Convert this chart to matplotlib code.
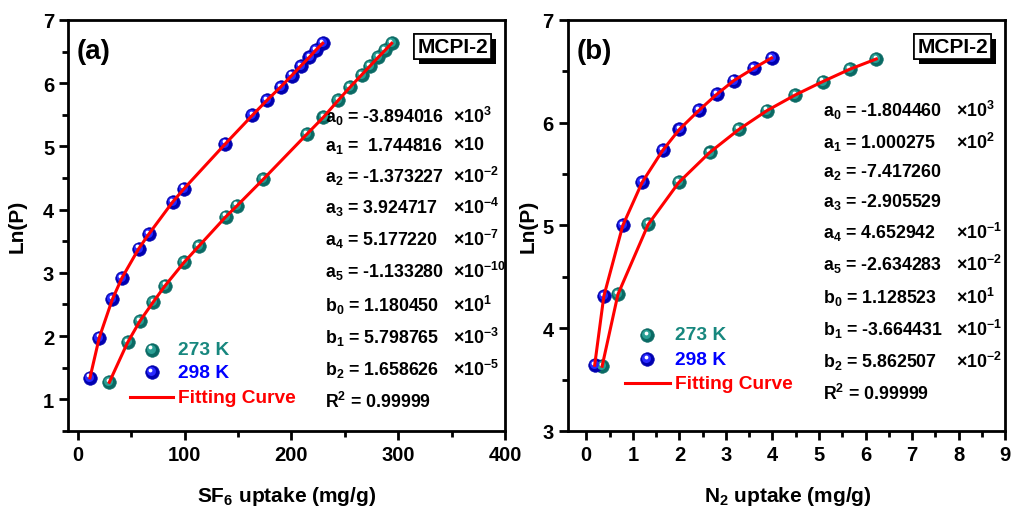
import matplotlib
matplotlib.use("Agg")
import matplotlib.pyplot as plt
from matplotlib.transforms import offset_copy
import matplotlib.patheffects as pe
from matplotlib.ticker import MultipleLocator

plt.rcParams['font.family'] = ['Liberation Sans', 'DejaVu Sans']
plt.rcParams['font.weight'] = 'bold'
plt.rcParams['mathtext.fontset'] = 'custom'
plt.rcParams['mathtext.rm'] = 'Liberation Sans:bold'
plt.rcParams['mathtext.it'] = 'Liberation Sans:bold'
plt.rcParams['mathtext.bf'] = 'Liberation Sans:bold'
plt.rcParams['mathtext.sf'] = 'Liberation Sans:bold'
plt.rcParams['mathtext.default'] = 'rm'

# ---------------- data ----------------
sf6_273_x = [29.6, 46.7, 58.3, 70.7, 81.9, 99.7, 113.2, 138.7, 149.0, 173.6,
             214.2, 229.8, 243.8, 254.7, 265.6, 273.4, 281.2, 287.5, 293.7]
sf6_273_y = [1.27, 1.90, 2.24, 2.54, 2.80, 3.17, 3.42, 3.89, 4.06, 4.48,
             5.19, 5.46, 5.73, 5.935, 6.13, 6.27, 6.41, 6.52, 6.63]
sf6_298_x = [11.5, 20.2, 32.4, 41.4, 57.0, 66.4, 88.8, 99.4, 138.1, 163.3,
             177.1, 189.9, 200.2, 208.6, 216.7, 222.9, 229.2]
sf6_298_y = [1.34, 1.975, 2.58, 2.92, 3.38, 3.61, 4.12, 4.33, 5.04, 5.49,
             5.73, 5.94, 6.12, 6.27, 6.41, 6.525, 6.63]

n2_273_x = [0.34, 0.68, 1.33, 1.99, 2.65, 3.28, 3.88, 4.49, 5.08, 5.66, 6.23]
n2_273_y = [3.63, 4.33, 5.01, 5.42, 5.71, 5.935, 6.117, 6.27, 6.40, 6.52, 6.62]
n2_298_x = [0.18, 0.376, 0.784, 1.20, 1.64, 2.00, 2.42, 2.80, 3.17, 3.60, 3.98]
n2_298_y = [3.64, 4.31, 5.00, 5.42, 5.73, 5.935, 6.12, 6.275, 6.41, 6.53, 6.63]

params_a_names = ["a$_0$", "a$_1$", "a$_2$", "a$_3$", "a$_4$", "a$_5$",
                  "b$_0$", "b$_1$", "b$_2$", "R$^2$"]
params_a_vals = ["-3.894016", " 1.744816", "-1.373227", "3.924717", "5.177220",
                 "-1.133280", "1.180450", "5.798765", "1.658626", "0.99999"]
params_a_exp = ["$\\times$10$^{3}$", "$\\times$10", "$\\times$10$^{-2}$",
                "$\\times$10$^{-4}$", "$\\times$10$^{-7}$", "$\\times$10$^{-10}$",
                "$\\times$10$^{1}$", "$\\times$10$^{-3}$", "$\\times$10$^{-5}$", ""]

params_b_names = params_a_names
params_b_vals = ["-1.804460", "1.000275", "-7.417260", "-2.905529", "4.652942",
                 "-2.634283", "1.128523", "-3.664431", "5.862507", "0.99999"]
params_b_exp = ["$\\times$10$^{3}$", "$\\times$10$^{2}$", "", "",
                "$\\times$10$^{-1}$", "$\\times$10$^{-2}$", "$\\times$10$^{1}$",
                "$\\times$10$^{-1}$", "$\\times$10$^{-2}$", ""]

legend_labels = ["273 K", "298 K", "Fitting Curve"]

TEAL_BASE, TEAL_MID, TEAL_TXT = '#0a6a64', '#2a9f95', '#17877e'
BLUE_BASE, BLUE_MID, BLUE_TXT = '#0000b0', '#2a2aff', '#0000ff'
RED = '#ff0000'

fig = plt.figure(figsize=(10.11, 5.10), dpi=100)
ax1 = fig.add_axes([0.0673, 0.153, 0.4325, 0.806])
ax2 = fig.add_axes([0.5615, 0.153, 0.4328, 0.806])


def sphere(ax, x, y, base, mid, base_tr, z=3, ms=9.8):
    ax.plot(x, y, 'o', ms=ms, color=base, mec=base, mew=0.4, ls='none',
            transform=base_tr, zorder=z, clip_on=False)
    t1 = offset_copy(base_tr, fig=fig, x=-0.6, y=0.7, units='points')
    ax.plot(x, y, 'o', ms=ms * 0.66, color=mid, mew=0, ls='none',
            transform=t1, zorder=z + 0.1, clip_on=False)
    t2 = offset_copy(base_tr, fig=fig, x=-1.1, y=1.7, units='points')
    ax.plot(x, y, 'o', ms=ms * 0.28, color='white', mew=0, ls='none',
            transform=t2, zorder=z + 0.2, clip_on=False)


def panel(ax, x273, y273, x298, y298, names, vals, exps, rows, xcol, ecol,
          leg_mx, leg_rows, leg_tx, leg_line, label):
    sphere(ax, x273, y273, TEAL_BASE, TEAL_MID, ax.transData)
    sphere(ax, x298, y298, BLUE_BASE, BLUE_MID, ax.transData)
    ax.plot(x273, y273, '-', color=RED, lw=2.2, zorder=5)
    ax.plot(x298, y298, '-', color=RED, lw=2.2, zorder=5)

    for n, v, e, r in zip(names, vals, exps, rows):
        ax.text(xcol, r, f"{n} = {v}", transform=ax.transAxes, fontsize=12.8,
                fontweight='bold', ha='left', va='center')
        if e:
            ax.text(ecol, r, e, transform=ax.transAxes, fontsize=12.8,
                    fontweight='bold', ha='left', va='center')

    # legend
    sphere(ax, [leg_mx], [leg_rows[0]], TEAL_BASE, TEAL_MID, ax.transAxes, z=6)
    sphere(ax, [leg_mx], [leg_rows[1]], BLUE_BASE, BLUE_MID, ax.transAxes, z=6)
    ax.plot(leg_line, [leg_rows[2]] * 2, '-', color=RED, lw=2.2,
            transform=ax.transAxes)
    for lab, r, c in zip(legend_labels, leg_rows, [TEAL_TXT, BLUE_TXT, RED]):
        ax.text(leg_tx, r, lab, transform=ax.transAxes, fontsize=13.8,
                fontweight='bold', color=c, ha='left', va='center')

    ax.text(0.02, 0.925, label, transform=ax.transAxes, fontsize=20,
            fontweight='bold', ha='left', va='center')
    t = ax.text(0.88, 0.936, 'MCPI-2', transform=ax.transAxes, fontsize=15,
                fontweight='bold', ha='center', va='center', zorder=7,
                bbox=dict(boxstyle='square,pad=0.15', fc='white', ec='black',
                          lw=1.2))
    t.get_bbox_patch().set_path_effects([
        pe.withSimplePatchShadow(offset=(3.5, -4), shadow_rgbFace='black',
                                 alpha=1.0), pe.Normal()])

    for s in ax.spines.values():
        s.set_linewidth(2.0)
    ax.tick_params(which='both', direction='out', width=2.0, labelsize=14.5)
    ax.tick_params(which='major', length=6.5)
    ax.tick_params(which='minor', length=4)


panel(ax1, sf6_273_x, sf6_273_y, sf6_298_x, sf6_298_y,
      params_a_names, params_a_vals, params_a_exp,
      [0.767, 0.696, 0.621, 0.544, 0.467, 0.390, 0.307, 0.228, 0.151, 0.074],
      0.588, 0.88, 0.191, [0.198, 0.143, 0.082], 0.252, [0.142, 0.240], '(a)')
ax1.set_xlim(-9, 400)
ax1.set_ylim(0.5, 7)
ax1.xaxis.set_major_locator(MultipleLocator(100))
ax1.xaxis.set_minor_locator(MultipleLocator(50))
ax1.yaxis.set_major_locator(MultipleLocator(1))
ax1.yaxis.set_minor_locator(MultipleLocator(0.5))
ax1.set_xlabel("SF$_6$ uptake (mg/g)", fontsize=15, fontweight='bold')
ax1.set_ylabel("Ln(P)", fontsize=15, fontweight='bold')

panel(ax2, n2_273_x, n2_273_y, n2_298_x, n2_298_y,
      params_b_names, params_b_vals, params_b_exp,
      [0.782, 0.704, 0.633, 0.560, 0.483, 0.406, 0.325, 0.248, 0.171, 0.092],
      0.584, 0.887, 0.182, [0.2336, 0.175, 0.116], 0.245, [0.131, 0.234], '(b)')
ax2.set_xlim(-0.4, 9)
ax2.set_ylim(3, 7)
ax2.xaxis.set_major_locator(MultipleLocator(1))
ax2.xaxis.set_minor_locator(MultipleLocator(0.5))
ax2.yaxis.set_major_locator(MultipleLocator(1))
ax2.yaxis.set_minor_locator(MultipleLocator(0.5))
ax2.set_xlabel("N$_2$ uptake (mg/g)", fontsize=15, fontweight='bold')
ax2.set_ylabel("Ln(P)", fontsize=15, fontweight='bold')

for ax, xl, yl in ((ax1, (0.5, -0.157), (-0.117, 0.5)),
                   (ax2, (0.502, -0.157), (-0.091, 0.5))):
    ax.xaxis.label.set_va('center')
    ax.xaxis.label.set_ha('center')
    ax.yaxis.label.set_va('center')
    ax.yaxis.label.set_ha('center')
    ax.xaxis.set_label_coords(*xl)
    ax.yaxis.set_label_coords(*yl)
    for lab in ax.get_xticklabels() + ax.get_yticklabels():
        lab.set_fontweight('bold')

fig.savefig("out.png", dpi=100)
